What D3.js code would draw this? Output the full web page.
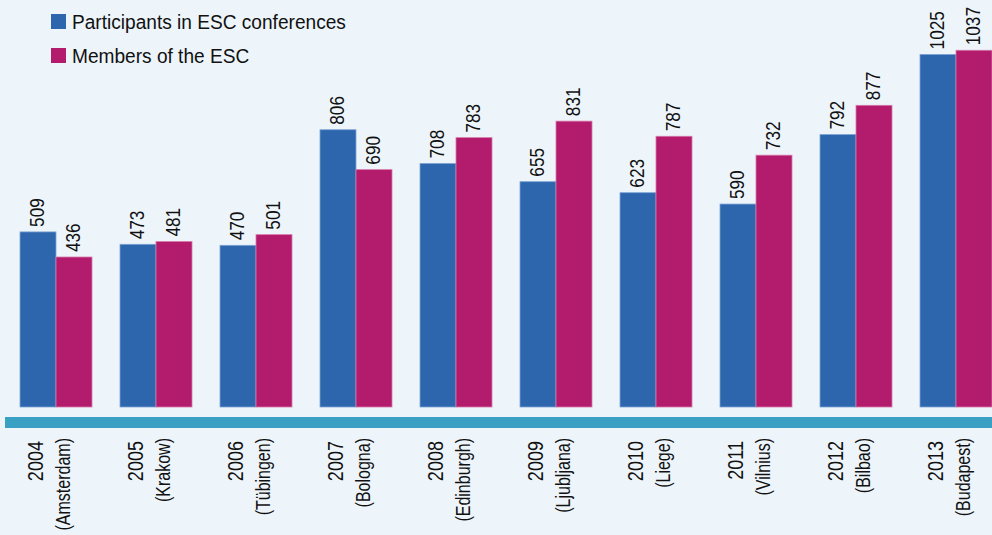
<!DOCTYPE html>
<html lang="en">
<head>
  <meta charset="utf-8" />
  <script src="https://d3js.org/d3.v7.min.js"></script>
  <style>
    body { margin: 0; background: #edf5fb; }
    svg { display: block; font-family: "Liberation Sans", Arial, sans-serif; }
  </style>
</head>
<body>
<script>
  var years = ["2004", "2005", "2006", "2007", "2008", "2009", "2010", "2011", "2012", "2013"];
  var cities = ["(Amsterdam)", "(Krakow)", "(Tübingen)", "(Bologna)", "(Edinburgh)", "(Ljubljana)", "(Liege)", "(Vilnius)", "(Bilbao)", "(Budapest)"];
  var participants = [509, 473, 470, 806, 708, 655, 623, 590, 792, 1025];
  var members = [436, 481, 501, 690, 783, 831, 787, 732, 877, 1037];
  var seriesNames = ["Participants in ESC conferences", "Members of the ESC"];
  var colors = ["#2e66ae", "#b31b6d"];

  var width = 992, height = 535;
  var narrow = 0.82; // no narrow font installed, so squeeze the text
  var svg = d3.select("body").append("svg")
    .attr("width", width)
    .attr("height", height);

  svg.append("rect").attr("width", width).attr("height", height).attr("fill", "#edf5fb");

  var x = d3.scaleBand().domain(years).range([20, 992]).paddingInner(0.28).paddingOuter(0);
  var xs = d3.scaleBand().domain([0, 1]).range([0, x.bandwidth()]);
  var y = d3.scaleLinear().domain([0, 1100]).range([407, 28.6]);

  var rows = years.map(function(yr, i) {
    return { year: yr, city: cities[i], vals: [participants[i], members[i]] };
  });

  var groups = svg.selectAll("g.grp").data(rows).enter().append("g")
    .attr("class", "grp")
    .attr("transform", function(d) { return "translate(" + x(d.year) + ",0)"; });

  groups.selectAll("rect").data(function(d) { return d.vals; }).enter().append("rect")
    .attr("x", function(d, i) { return xs(i); })
    .attr("y", function(d) { return y(d); })
    .attr("width", xs.bandwidth())
    .attr("height", function(d) { return y(0) - y(d); })
    .attr("fill", function(d, i) { return colors[i]; })
    .attr("stroke", function(d, i) { return i ? "#d777a8" : "#7ea4d4"; })
    .attr("stroke-width", 0.8);

  groups.selectAll("text.val").data(function(d) { return d.vals; }).enter().append("text")
    .attr("class", "val")
    .attr("transform", function(d, i) {
      return "translate(" + (xs(i) + xs.bandwidth() / 2 - 1) + "," + (y(d) - 5) + ") rotate(-90) scale(" + narrow + ",1)";
    })
    .attr("dy", "0.35em")
    .attr("font-size", 21)
    .attr("fill", "#111")
    .text(function(d) { return d; });

  // axis band
  svg.append("rect").attr("x", 5).attr("y", 417).attr("width", width - 5).attr("height", 11).attr("fill", "#3aa0c4");

  var labels = groups.append("g").attr("fill", "#111").attr("text-anchor", "end");
  labels.append("text")
    .attr("transform", "translate(" + (x.bandwidth() / 2 - 21) + ",441) rotate(-90) scale(" + narrow + ",1)")
    .attr("dy", "0.35em")
    .attr("font-size", 22)
    .text(function(d) { return d.year; });
  labels.append("text")
    .attr("transform", "translate(" + (x.bandwidth() / 2 + 7) + ",438) rotate(-90) scale(0.8,1)")
    .attr("dy", "0.35em")
    .attr("font-size", 20)
    .text(function(d) { return d.city; });

  // legend
  var legend = svg.append("g").attr("transform", "translate(51,14)");
  var li = legend.selectAll("g").data(seriesNames).enter().append("g")
    .attr("transform", function(d, i) { return "translate(0," + (i * 34) + ")"; });
  li.append("rect").attr("width", 15).attr("height", 15).attr("fill", function(d, i) { return colors[i]; });
  li.append("text")
    .attr("transform", "translate(21,8) scale(0.91,1)")
    .attr("dy", "0.35em")
    .attr("font-size", 21).attr("fill", "#111").text(function(d) { return d; });
</script>
</body>
</html>
